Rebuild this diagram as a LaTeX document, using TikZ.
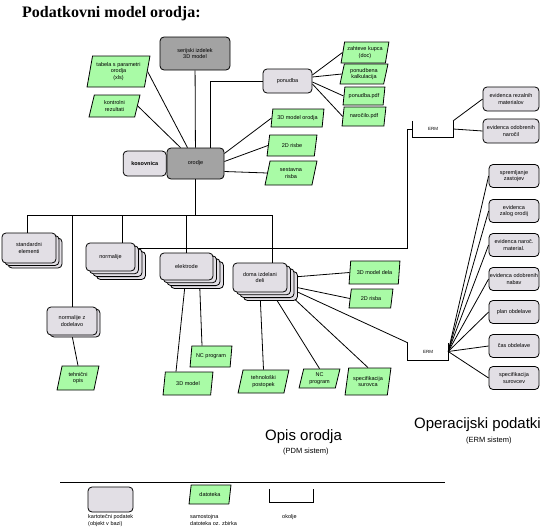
\documentclass[tikz,border=0pt]{standalone}
\usepackage{fontspec}
\setmainfont{Liberation Serif}
\setsansfont{Liberation Sans}
\usepackage{tikz}
\usetikzlibrary{positioning,calc,backgrounds,shapes.geometric,shadows}
\definecolor{podgray}{HTML}{A3A3A3}
\definecolor{podlight}{HTML}{E2DFE5}
\definecolor{podgreen}{HTML}{A9FBA6}
\tikzset{
  bx/.style={rounded corners=4pt, draw=black, line width=0.8pt, align=center, inner sep=1pt},
  obj/.style={bx, fill=podlight},
  key/.style={bx, fill=podgray},
  dat/.style={trapezium, trapezium left angle=76, trapezium right angle=104, trapezium stretches=true,
    draw=black, line width=0.8pt, fill=podgreen, align=center, inner sep=0.5pt},
  stk1/.style={copy shadow={shadow xshift=3pt, shadow yshift=-2pt}},
  stk2/.style={double copy shadow={shadow xshift=3pt, shadow yshift=-2.5pt}},
  stk3/.style={copy shadow={shadow xshift=10.5pt, shadow yshift=-8.5pt},
    double copy shadow={shadow xshift=3.5pt, shadow yshift=-2.8pt}},
  brk/.style={minimum width=40pt, minimum height=16pt, inner sep=0pt, font=\sffamily\fontsize{4.5}{5}\selectfont},
  ln/.style={line width=0.8pt, draw=black},
  big/.style={font=\sffamily\fontsize{15}{17}\selectfont},
  sub/.style={font=\sffamily\fontsize{7.5}{9}\selectfont},
  lgd/.style={font=\sffamily\fontsize{5.5}{7}\selectfont, align=left, anchor=north west, inner sep=0pt},
}

\begin{document}
\begin{tikzpicture}[x=1pt, y=-1pt, font=\sffamily\fontsize{5.5}{6.5}\selectfont]
  \useasboundingbox (0,0) rectangle (544,530);
  \node[font=\rmfamily\bfseries\fontsize{16}{18}\selectfont, anchor=base west, inner sep=0pt] (title) at (22,17) {Podatkovni model orodja:};

  % opis orodja
  \node[key, minimum width=70pt, minimum height=33pt] (serij) at (195,53.5) {serijski izdelek\\3D model};
  \node[key, minimum width=57pt, minimum height=31pt] (orodje) at (195.5,163.5) {orodje};
  \node[obj, minimum width=43pt, minimum height=25pt, left=0pt of orodje, font=\sffamily\bfseries\fontsize{5.5}{6.5}\selectfont] (kos) {kosovnica};
  \node[obj, minimum width=49pt, minimum height=24pt] (pon) at (287.5,81) {ponudba};

  \node[obj, stk2, minimum width=54pt, minimum height=30pt] (stdel) at (29,248) {standardni\\elementi};
  \node[obj, stk3, minimum width=49pt, minimum height=28pt] (norm) at (110.5,257) {normalije};
  \node[obj, stk1, minimum width=50pt, minimum height=28pt] (normz) at (72,321) {normalije z\\dodelavo};
  \node[obj, stk3, minimum width=53pt, minimum height=27pt] (elek) at (186.5,266.5) {elektrode};
  \node[obj, stk3, minimum width=54pt, minimum height=29pt] (dom) at (260,277.5) {doma izdelani\\deli};

  \foreach \n/\x/\y/\w/\h/\t in {
    tab/118.5/71.5/63/31/{tabela s parametri\\orodja\\(xls)},
    kon/114.5/106/51/22/{kontrolni\\rezultati},
    p1/365/52.5/48/21/{zahteve kupca\\(doc)},
    p2/364/74/48/20/{ponudbena\\kalkulacija},
    p3/364/96/42/18/{ponudba.pdf},
    p4/364/116.5/44/19/{naročilo.pdf},
    o1/297.5/118/53/18/{3D model orodja},
    o2/292/145.5/50/21/{2D risbe},
    o3/291/173/52/24/{sestavna\\risba},
    nzd/78/378/42/24/{tehnični\\opis},
    elA/211/356.5/42/21/{NC program},
    elB/188/383.5/50/23/{3D model},
    dC/374.5/272.5/51/23/{3D model dela},
    dD/371/298.5/44/19/{2D risba},
    dE/263.5/381.5/51/23/{tehnološki\\postopek},
    dF/319.5/378.5/41/19/{NC\\program},
    dG/368/381.5/46/27/{specifikacija\\surovca}}
    \node[dat, minimum width=\w pt, minimum height=\h pt] (\n) at (\x,\y) {\t};

  % operacijski podatki
  \node[brk] (erm1) at (433,129) {ERM};
  \node[brk, minimum height=17pt] (erm2) at (428,351.5) {ERM};
  \node[obj, minimum width=56pt, minimum height=24pt] (ev1) at (511,99) {evidenca rezalnih\\materialov};
  \node[obj, minimum width=56pt, minimum height=24pt] (ev2) at (511,131) {evidenca odobrenih\\naročil};
  \foreach \n/\y/\t in {
    1/176/{spremljanje\\zastojev},
    2/211/{evidenca\\zalog orodij},
    3/245/{evidenca naroč.\\material.},
    4/279/{evidenca odobrenih\\nabav},
    5/312/{plan obdelave},
    6/346/{čas obdelave},
    7/378/{specifikacija\\surovcev}}
    \node[obj, minimum width=50pt, minimum height=23pt] (op\n) at (514,\y) {\t};

  \node[big, anchor=base west, inner sep=0pt] (opis) at (265,440) {Opis orodja};
  \node[sub, anchor=base west, inner sep=0pt] (pdm) at (283,453) {(PDM sistem)};
  \node[big, anchor=base east, inner sep=0pt] (oper) at (541,428) {Operacijski podatki};
  \node[sub, anchor=base west, inner sep=0pt] (erm) at (466,442) {(ERM sistem)};

  % legenda
  \coordinate (legL) at (60,482);
  \coordinate (legR) at (445,482);
  \node[obj, minimum width=45pt, minimum height=25pt] (legobj) at (110.5,499.5) {};
  \node[dat, minimum width=42pt, minimum height=19pt] (legdat) at (210,494.5) {datoteka};
  \node[brk, minimum width=43pt, minimum height=13pt] (legbrk) at (291.5,495.5) {};
  \node[lgd] (legobjt) at (88,514) {kartotečni podatek\\(objekt v bazi)};
  \node[lgd] (legdatt) at (190,514) {samostojna\\datoteka oz. zbirka};
  \node[lgd] (legbrkt) at (282,514) {okolje};

  \foreach \b in {erm1,erm2,legbrk}
    \draw[ln] (\b.north west) |- (\b.south east) -- (\b.north east);

  \begin{scope}[on background layer]
    \draw[ln] (legL) -- (legR);
    \draw[ln] (serij) -- (orodje);
    \draw[ln] (tab.east) -- ($(orodje.north)+(-8,0)$);
    \draw[ln] (kon.east) -- ($(orodje.north)+(-15,0)$);
    \draw[ln] ($(orodje.north)+(15,0)$) |- (pon.west);
    \foreach \n/\dy in {p1/-6,p2/-4,p3/1,p4/3}
      \draw[ln] ($(pon.east)+(0,\dy)$) -- (\n.west);
    \foreach \n/\dy in {o1/-10,o2/-2,o3/8}
      \draw[ln] ($(orodje.east)+(0,\dy)$) -- (\n.west);
    % drevo
    \coordinate (busL) at (27,215);
    \draw[ln] (orodje.south) |- (busL);
    \foreach \n/\dx in {stdel/-2,normz/0,norm/11.5,elek/0,dom/12}
      \draw[ln] ($(\n.north)+(\dx,0)$) |- (busL);
    \coordinate (ermbus) at (407,248);
    \draw[ln] (norm.center |- ermbus) -- (ermbus) |- (erm1.west);
    \draw[ln] (erm1.north east) -- (ev1.west);
    \draw[ln] (erm1.east) -- (ev2.west);
    \draw[ln] (normz.south) -- (nzd.north);
    \draw[ln] ($(elek.south)+(-1,0)$) -- ($(elB.north)+(-12,0)$);
    \draw[ln] ($(elek.south)+(13,0)$) -- ($(elA.north)+(-9,0)$);
    \draw[ln] (dom.east) -- (dC.west);
    \draw[ln] ($(dom.east)+(0,8)$) -- (dD.west);
    \draw[ln] (dom.south) -- (dE.north);
    \draw[ln] ($(dom.south)+(12,0)$) -- (dF.north);
    \draw[ln] (dom.south east) -- (dG.north);
    \draw[ln] ($(dom.south east)+(11,0)$) -- (erm2.north west);
    \foreach \n in {1,...,7}
      \draw[ln] (erm2.east) -- (op\n.west);
  \end{scope}
\end{tikzpicture}
\end{document}
